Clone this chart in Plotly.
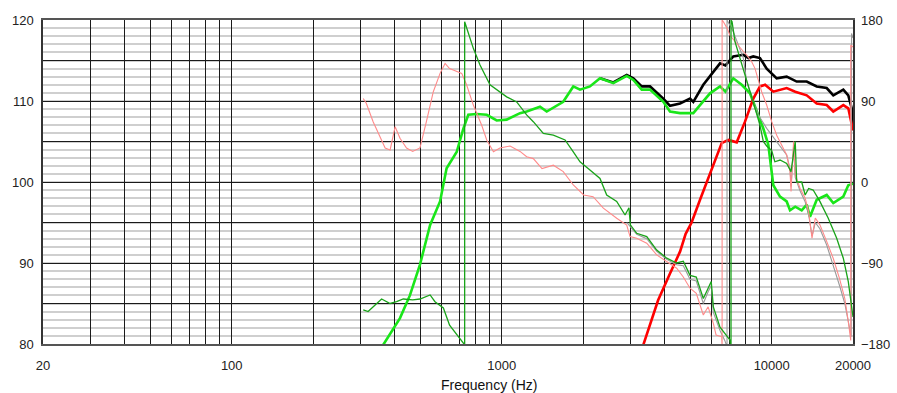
import plotly.graph_objects as go

# ---------------- data ----------------
# thick bright green SPL (dB)
lime_f = [364, 420, 457, 498, 543, 591, 625, 681, 721, 752, 808, 880, 958, 1043, 1169, 1237,
          1386, 1468, 1690, 1841, 1950, 2122, 2312, 2590, 2904, 3072, 3300, 3541, 3967, 4200,
          4575, 5124, 5426, 5909, 6434, 6740, 7206, 7742, 8310, 8800, 9308, 9714, 10138, 10732,
          11360, 11690, 12220, 12914, 13478, 13860, 14676, 15980, 16906, 18414, 19214, 20000]
lime_db = [79.9, 83.2, 86.0, 89.8, 94.7, 97.6, 101.7, 103.7, 106.6, 108.3, 108.4, 108.3, 107.6,
           107.7, 108.5, 108.7, 109.3, 108.7, 109.9, 111.8, 111.4, 111.8, 112.8, 112.2, 113.1,
           112.6, 111.4, 111.4, 109.9, 108.7, 108.5, 108.5, 109.5, 110.95, 111.8, 111.15, 112.8,
           112.0, 110.95, 108.7, 106.6, 104.6, 99.6, 98.2, 97.6, 96.5, 96.95, 96.5, 97.2, 95.7,
           97.8, 98.4, 97.4, 98.2, 99.6, 99.8]

# thick black SPL (sum, dB)
black_f = [2312, 2590, 2904, 3072, 3300, 3541, 3967, 4200, 4575, 4982, 5124, 5580, 6078, 6434,
           6740, 7206, 7851, 8200, 8546, 9047, 9580, 10434, 11360, 12372, 13478, 14676, 15980,
           16906, 18414, 19214, 19790, 20000]
black_db = [112.8, 112.3, 113.2, 112.8, 111.8, 111.8, 110.3, 109.4, 109.7, 110.3, 109.9, 112.0,
            113.6, 114.65, 114.4, 115.5, 115.7, 115.3, 115.5, 115.3, 114.0, 112.8, 113.0, 112.4,
            112.4, 111.8, 111.6, 110.7, 111.4, 110.7, 109.1, 106.4]

# thick red SPL (dB)
red_f = [3346, 3541, 3794, 4200, 4575, 4800, 5050, 5426, 6078, 6528, 6904, 7420, 7962, 8546,
         9047, 9447, 10138, 10732, 11360, 12220, 13478, 14676, 15980, 16906, 18414, 19214, 20000]
red_db = [79.9, 82.5, 85.4, 88.7, 91.4, 93.6, 95.0, 97.8, 102.1, 104.8, 105.2, 104.9, 107.45,
          110.3, 111.8, 112.0, 111.15, 111.4, 111.6, 111.15, 110.7, 109.7, 109.5, 108.7, 109.5,
          109.1, 106.4]

# thin dark green phase (deg)
gph_f = [307, 320, 339, 359, 386, 408, 432, 468, 498, 543, 566, 608, 641, 697, 721, 729, 729,
         785, 831, 905, 958, 1043, 1136, 1169, 1237, 1309, 1426, 1553, 1716, 1841, 1950, 2122,
         2312, 2448, 2666, 2863, 2960, 2995, 3162, 3444, 3750, 4084, 4446, 4705, 4982, 5255,
         5580, 5814, 5970, 6078, 6434, 6999, 7066, 7066, 7130, 7310, 7630, 7962, 8310, 8675,
         9047, 9308, 9580, 9998, 10270, 10732, 11360, 11790, 12220, 12372, 12914, 13300, 13700,
         14240, 15080, 16180, 17404, 18414, 19214, 19790, 20000]
gph_deg = [-142, -144, -137, -130, -135, -133, -130, -131, -130, -125.5, -133, -140, -159, -174,
           -179, -183, 178, 148.5, 130, 108, 102.6, 94.6, 89, 83.7, 74.6, 67, 54, 52, 46.7, 33.6,
           22.5, 13.3, 4, -14.4, -21.5, -36.7, -28.6, -47.6, -57, -60.7, -75.6, -84.6, -90, -88,
           -103.7, -105.6, -129.5, -118, -110.6, -138.7, -161.2, -175.5, -183, 180, 178, 156,
           138, 119, 100, 82, 63, 45, 40, 35, 22.5, 24.4, 20.7, 11.5, 45, 0, 0, -14.4, -7.2,
           -8.9, -21.5, -40, -62.5, -84.7, -110.6, -140, -150]

# thin pink phase (deg)
pph_f = [307, 315, 334, 355, 370, 386, 403, 420, 444, 468, 498, 526, 558, 591, 617, 641, 681,
         711, 741, 785, 843, 880, 932, 985, 1074, 1169, 1237, 1309, 1410, 1553, 1690, 1841,
         2011, 2180, 2379, 2518, 2666, 2904, 2987, 3162, 3444, 3750, 4084, 4446, 4705, 4982,
         5255, 5580, 5814, 6078, 6222, 6528, 6550, 6550, 6621, 6830, 7000, 7310, 7630, 7851,
         8077, 8431, 8675, 8923, 9183, 9580, 9998, 10434, 10888, 11360, 11690, 11790, 12050,
         12220, 12740, 13300, 13700, 14100, 14500, 15080, 15980, 16906, 17830, 18650, 19214,
         19540, 19620, 19620, 20000]
pph_deg = [92.7, 87.5, 67, 48.6, 37.8, 35.6, 61.4, 48.6, 37.8, 34, 37.8, 67, 100.3, 120.7,
           131.8, 126, 123, 120.7, 108, 85.5, 63, 46.7, 33.6, 37.8, 40, 34, 28, 26, 15, 18.7,
           11.5, -3.3, -14.4, -16.3, -29, -34.8, -40.3, -47.8, -60.7, -62.5, -68, -81, -88,
           -95.8, -105.6, -118, -123.7, -147.8, -138.7, -157, -170, -172, -183, 180, 178, 171,
           163, 155.9, 148.6, 145, 141, 133.7, 126, 111.5, 100, 85.5, 67, 52, 41.5, 30, 11.5,
           -10.6, 45, 8, -7.2, -18, -33, -62.5, -40, -47.6, -66, -85, -107.3, -129.6, -155,
           -170, -176, 152, 150]

# thin grey phase (deg, sum)
yph_f = [2904, 3162, 3444, 3750, 4084, 4446, 4705, 4982, 5255, 5580, 5814, 5970, 6078, 6434,
         6700, 6830, 6830, 7206, 7851, 8077, 8546, 8923, 9580, 9998, 10434, 10888, 11360, 11690,
         11790, 12050, 12220, 12740, 13300, 13700, 14100, 14500, 15080, 15980, 16906, 17830,
         18650, 19214, 19700, 19750, 20000]
yph_deg = [-45, -58, -63, -77, -86, -92, -93, -108, -110, -135, -122, -115, -145, -165, -176,
           -183, 180, 167, 137.6, 111.5, 89, 74.4, 59.6, 52, 45, 38, 30, 15, -5, 40, 5, -10,
           -22, -36, -60, -45, -52, -70, -92, -115, -135, -155, -172, 165, 160]

x_grid = [20, 30, 40, 50, 60, 70, 80, 90, 100, 200, 300, 400, 500, 600, 700, 800, 900,
          1000, 2000, 3000, 4000, 5000, 6000, 7000, 8000, 9000, 10000, 20000]
x_labels = {20: "20", 100: "100", 1000: "1000", 10000: "10000", 20000: "20000"}
y_ticks = [80, 85, 90, 95, 100, 105, 110, 115, 120]
y_labels = {80: "80", 90: "90", 100: "100", 110: "110", 120: "120"}
ph_ticks = [-180, -90, 0, 90, 180]

FONT = "Liberation Sans, Arial, sans-serif"

fig = go.Figure()
fig.add_trace(go.Scatter(x=yph_f, y=yph_deg, yaxis="y2", mode="lines",
                         line=dict(color="#9a9a9a", width=1.1), showlegend=False))
fig.add_trace(go.Scatter(x=pph_f, y=pph_deg, yaxis="y2", mode="lines",
                         line=dict(color="#ff8a8a", width=1.1), showlegend=False))
fig.add_trace(go.Scatter(x=gph_f, y=gph_deg, yaxis="y2", mode="lines",
                         line=dict(color="#19a319", width=1.3), showlegend=False))
fig.add_trace(go.Scatter(x=black_f, y=black_db, mode="lines",
                         line=dict(color="#000000", width=2.6), showlegend=False))
fig.add_trace(go.Scatter(x=lime_f, y=lime_db, mode="lines",
                         line=dict(color="#19e619", width=2.6), showlegend=False))
fig.add_trace(go.Scatter(x=red_f, y=red_db, mode="lines",
                         line=dict(color="#ff0000", width=2.6), showlegend=False))

fig.update_layout(
    width=897, height=393,
    margin=dict(l=43, r=44, t=20, b=49),
    paper_bgcolor="white", plot_bgcolor="white",
    font=dict(family=FONT, size=13, color="#222222"),
    xaxis=dict(type="log", range=[1.30103, 4.30103], automargin=False,
               tickvals=x_grid, ticktext=[x_labels.get(v, "") for v in x_grid],
               showgrid=True, gridcolor="#1a1a1a", gridwidth=1.3,
               showline=True, linecolor="#555555", linewidth=1.5, mirror=True,
               ticks="", zeroline=False, ticklabelstandoff=9,
               tickfont=dict(size=13, color="#222")),
    yaxis=dict(range=[80, 120], tickvals=y_ticks, automargin=False,
               ticktext=[y_labels.get(v, "") for v in y_ticks],
               showgrid=True, gridcolor="#1a1a1a", gridwidth=1.3,
               minor=dict(tickmode="linear", tick0=80, dtick=1, showgrid=True,
                          gridcolor="#cfcfcf", gridwidth=1.6, ticks=""),
               showline=True, linecolor="#333333", linewidth=1.5, mirror=True,
               ticks="", zeroline=False, ticklabelstandoff=5,
               tickfont=dict(size=13, color="#222")),
    yaxis2=dict(range=[-180, 180], overlaying="y", side="right", tickvals=ph_ticks,
                automargin=False,
                showgrid=False, zeroline=False, ticks="", showline=False,
                ticklabelstandoff=7, tickfont=dict(size=13, color="#222")),
    annotations=[dict(text="Frequency (Hz)", xref="paper", yref="paper", x=0.5506, y=-0.125,
                      xanchor="center", yanchor="middle", showarrow=False,
                      font=dict(size=14, color="#111", family=FONT))],
)

fig.write_html("out.html")
